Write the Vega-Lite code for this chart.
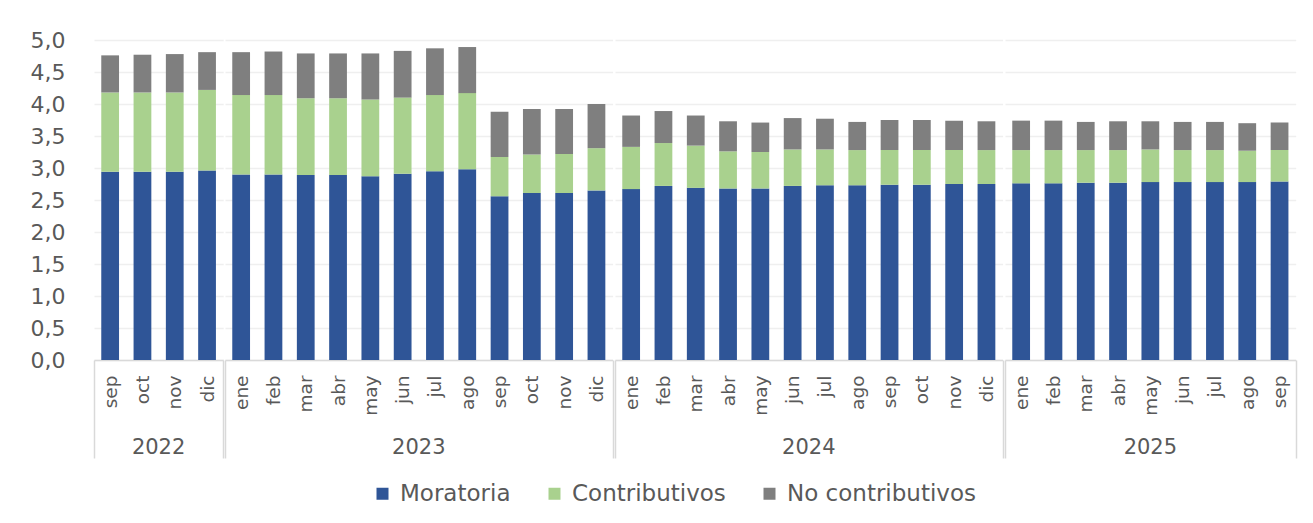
{
  "$schema": "https://vega.github.io/schema/vega-lite/v6.json",
  "padding": {"top": 29, "left": 30, "right": 10, "bottom": 10},
  "background": "#ffffff",
  "data": {
    "values": [
      {"k": "sep 2022", "a": 2022, "i": 1, "Moratoria": 2.94, "Contributivos": 1.24, "No contributivos": 0.58},
      {"k": "oct 2022", "a": 2022, "i": 2, "Moratoria": 2.94, "Contributivos": 1.24, "No contributivos": 0.59},
      {"k": "nov 2022", "a": 2022, "i": 3, "Moratoria": 2.94, "Contributivos": 1.24, "No contributivos": 0.60},
      {"k": "dic 2022", "a": 2022, "i": 4, "Moratoria": 2.96, "Contributivos": 1.26, "No contributivos": 0.59},
      {"k": "ene 2023", "a": 2023, "i": 5, "Moratoria": 2.90, "Contributivos": 1.24, "No contributivos": 0.67},
      {"k": "feb 2023", "a": 2023, "i": 6, "Moratoria": 2.90, "Contributivos": 1.24, "No contributivos": 0.68},
      {"k": "mar 2023", "a": 2023, "i": 7, "Moratoria": 2.89, "Contributivos": 1.20, "No contributivos": 0.70},
      {"k": "abr 2023", "a": 2023, "i": 8, "Moratoria": 2.89, "Contributivos": 1.20, "No contributivos": 0.70},
      {"k": "may 2023", "a": 2023, "i": 9, "Moratoria": 2.87, "Contributivos": 1.20, "No contributivos": 0.72},
      {"k": "jun 2023", "a": 2023, "i": 10, "Moratoria": 2.91, "Contributivos": 1.19, "No contributivos": 0.73},
      {"k": "jul 2023", "a": 2023, "i": 11, "Moratoria": 2.95, "Contributivos": 1.19, "No contributivos": 0.73},
      {"k": "ago 2023", "a": 2023, "i": 12, "Moratoria": 2.98, "Contributivos": 1.19, "No contributivos": 0.72},
      {"k": "sep 2023", "a": 2023, "i": 13, "Moratoria": 2.56, "Contributivos": 0.61, "No contributivos": 0.71},
      {"k": "oct 2023", "a": 2023, "i": 14, "Moratoria": 2.61, "Contributivos": 0.60, "No contributivos": 0.71},
      {"k": "nov 2023", "a": 2023, "i": 15, "Moratoria": 2.61, "Contributivos": 0.61, "No contributivos": 0.70},
      {"k": "dic 2023", "a": 2023, "i": 16, "Moratoria": 2.65, "Contributivos": 0.66, "No contributivos": 0.69},
      {"k": "ene 2024", "a": 2024, "i": 17, "Moratoria": 2.67, "Contributivos": 0.66, "No contributivos": 0.49},
      {"k": "feb 2024", "a": 2024, "i": 18, "Moratoria": 2.72, "Contributivos": 0.67, "No contributivos": 0.50},
      {"k": "mar 2024", "a": 2024, "i": 19, "Moratoria": 2.69, "Contributivos": 0.66, "No contributivos": 0.47},
      {"k": "abr 2024", "a": 2024, "i": 20, "Moratoria": 2.68, "Contributivos": 0.58, "No contributivos": 0.47},
      {"k": "may 2024", "a": 2024, "i": 21, "Moratoria": 2.68, "Contributivos": 0.57, "No contributivos": 0.46},
      {"k": "jun 2024", "a": 2024, "i": 22, "Moratoria": 2.72, "Contributivos": 0.57, "No contributivos": 0.49},
      {"k": "jul 2024", "a": 2024, "i": 23, "Moratoria": 2.73, "Contributivos": 0.56, "No contributivos": 0.48},
      {"k": "ago 2024", "a": 2024, "i": 24, "Moratoria": 2.73, "Contributivos": 0.55, "No contributivos": 0.44},
      {"k": "sep 2024", "a": 2024, "i": 25, "Moratoria": 2.74, "Contributivos": 0.54, "No contributivos": 0.47},
      {"k": "oct 2024", "a": 2024, "i": 26, "Moratoria": 2.74, "Contributivos": 0.54, "No contributivos": 0.47},
      {"k": "nov 2024", "a": 2024, "i": 27, "Moratoria": 2.75, "Contributivos": 0.53, "No contributivos": 0.46},
      {"k": "dic 2024", "a": 2024, "i": 28, "Moratoria": 2.75, "Contributivos": 0.53, "No contributivos": 0.45},
      {"k": "ene 2025", "a": 2025, "i": 29, "Moratoria": 2.76, "Contributivos": 0.52, "No contributivos": 0.46},
      {"k": "feb 2025", "a": 2025, "i": 30, "Moratoria": 2.76, "Contributivos": 0.52, "No contributivos": 0.46},
      {"k": "mar 2025", "a": 2025, "i": 31, "Moratoria": 2.77, "Contributivos": 0.51, "No contributivos": 0.44},
      {"k": "abr 2025", "a": 2025, "i": 32, "Moratoria": 2.77, "Contributivos": 0.51, "No contributivos": 0.45},
      {"k": "may 2025", "a": 2025, "i": 33, "Moratoria": 2.78, "Contributivos": 0.51, "No contributivos": 0.44},
      {"k": "jun 2025", "a": 2025, "i": 34, "Moratoria": 2.78, "Contributivos": 0.50, "No contributivos": 0.44},
      {"k": "jul 2025", "a": 2025, "i": 35, "Moratoria": 2.78, "Contributivos": 0.50, "No contributivos": 0.44},
      {"k": "ago 2025", "a": 2025, "i": 36, "Moratoria": 2.78, "Contributivos": 0.49, "No contributivos": 0.43},
      {"k": "sep 2025", "a": 2025, "i": 37, "Moratoria": 2.79, "Contributivos": 0.49, "No contributivos": 0.43}
    ]
  },
  "transform": [
    {"fold": ["Moratoria", "Contributivos", "No contributivos"], "as": ["serie", "valor"]},
    {
      "lookup": "serie",
      "from": {
        "data": {"values": [
          {"serie": "Moratoria", "ord": 1},
          {"serie": "Contributivos", "ord": 2},
          {"serie": "No contributivos", "ord": 3}
        ]},
        "key": "serie",
        "fields": ["ord"]
      }
    }
  ],
  "facet": {
    "column": {
      "field": "a",
      "type": "ordinal",
      "title": null,
      "header": {
        "labelOrient": "bottom",
        "labelFontSize": 21,
        "labelColor": "#595959",
        "labelFont": "DejaVu Sans",
        "labelPadding": -22
      }
    }
  },
  "spacing": 0,
  "resolve": {"scale": {"x": "independent"}},
  "spec": {
    "width": {"step": 32.3},
    "height": 320,
    "mark": {"type": "bar", "width": {"band": 0.55}},
    "encoding": {
      "x": {
        "field": "k",
        "type": "ordinal",
        "sort": {"field": "i", "op": "min"},
        "scale": {"paddingInner": 0, "paddingOuter": 0},
        "axis": {
          "title": null,
          "labelAngle": 270,
          "labelFontSize": {"condition": {"test": "datum.index == -1", "value": 0}, "value": 18.5},
          "labelColor": "#595959",
          "labelExpr": "datum.index == -1 ? '' : split(datum.label, ' ')[0]",
          "domainColor": "#d9d9d9",
          "domainWidth": 1.5,
          "tickBand": "extent",
          "tickSize": 98,
          "tickColor": "#d9d9d9",
          "tickWidth": 1.5,
          "tickOpacity": {"condition": {"test": "datum.index == 1 || datum.index == -1", "value": 1}, "value": 0},
          "labelPadding": -83,
          "labelBaseline": "middle"
        }
      },
      "y": {
        "field": "valor",
        "type": "quantitative",
        "stack": true,
        "scale": {"domain": [0, 5]},
        "axis": {
          "title": null,
          "values": [0, 0.5, 1, 1.5, 2, 2.5, 3, 3.5, 4, 4.5, 5],
          "labelExpr": "replace(format(datum.value, '.1f'), '.', ',')",
          "domain": false,
          "ticks": false,
          "labelPadding": 28,
          "labelFontSize": 22,
          "labelColor": "#595959",
          "gridColor": "#efefef",
          "gridWidth": 1.5
        }
      },
      "order": {"field": "ord", "type": "quantitative"},
      "color": {
        "field": "serie",
        "type": "nominal",
        "sort": ["Moratoria", "Contributivos", "No contributivos"],
        "scale": {"domain": ["Moratoria", "Contributivos", "No contributivos"], "range": ["#2F5597", "#A9D18E", "#7F7F7F"]},
        "legend": {
          "title": null,
          "orient": "none",
          "legendX": 277,
          "legendY": 442,
          "direction": "horizontal",
          "symbolType": "square",
          "symbolSize": 144,
          "symbolStrokeWidth": 0,
          "labelFontSize": 23,
          "labelColor": "#595959",
          "labelOffset": 6,
          "labelLimit": 400,
          "columnPadding": 32
        }
      }
    }
  },
  "config": {
    "font": "DejaVu Sans",
    "view": {"stroke": null}
  }
}
